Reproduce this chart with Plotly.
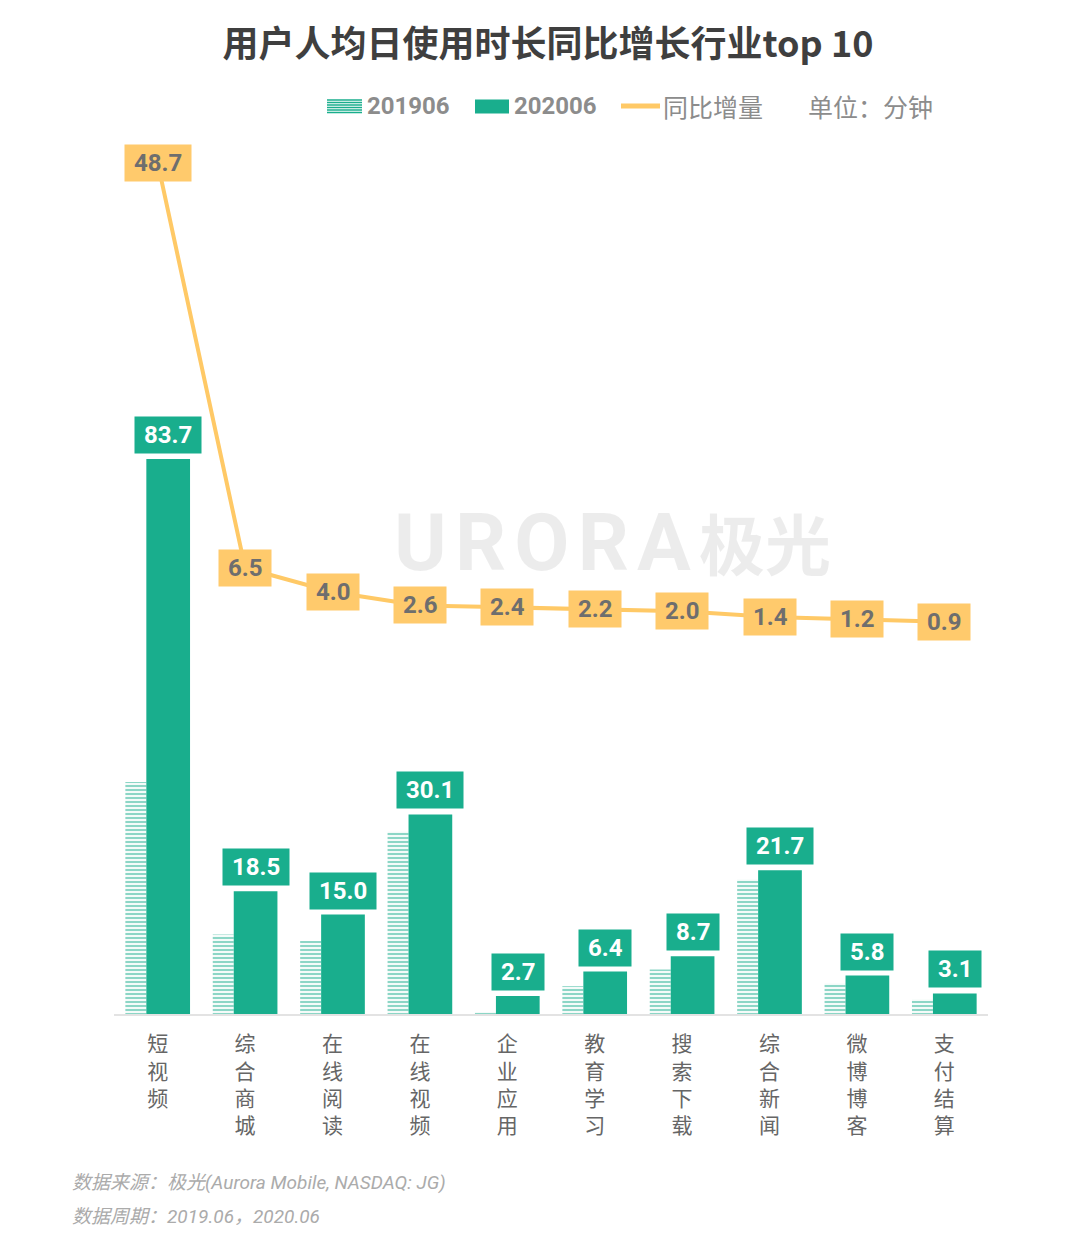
import plotly.graph_objects as go

categories = ["短视频", "综合商城", "在线阅读", "在线视频", "企业应用",
              "教育学习", "搜索下载", "综合新闻", "微博博客", "支付结算"]
v201906 = [35.0, 12.0, 11.0, 27.5, 0.3, 4.2, 6.7, 20.3, 4.6, 2.2]
v202006 = [83.7, 18.5, 15.0, 30.1, 2.7, 6.4, 8.7, 21.7, 5.8, 3.1]
growth = [48.7, 6.5, 4.0, 2.6, 2.4, 2.2, 2.0, 1.4, 1.2, 0.9]
series_names = ["201906", "202006", "同比增量"]

TEAL = "#19AE8D"
YELLOW = "#FFC966"
YBOX = "#FFCA6C"
FONT = "Roboto, Noto Sans CJK SC, sans-serif"
CJK = "Noto Sans CJK SC, Roboto, sans-serif"

# page-pixel helpers (plot area spans page x 114..988, y 140..1014)
PX0, PX1, PY0, PY1 = 114, 988, 140, 1014
def px(x):
    return (x - PX0) / (PX1 - PX0)
def py(y):
    return (PY1 - y) / (PY1 - PY0)

fig = go.Figure()
fig.add_trace(go.Bar(
    x=categories, y=v201906, name=series_names[0], width=0.24, offset=-0.37,
    marker=dict(color="white", line=dict(width=0),
                pattern=dict(shape="-", fgcolor=TEAL, bgcolor="white", size=4, solidity=0.55)),
    yaxis="y"))
fig.add_trace(go.Bar(
    x=categories, y=v202006, name=series_names[1], width=0.5, offset=-0.13,
    marker=dict(color=TEAL, line=dict(width=0)), yaxis="y"))
fig.add_trace(go.Scatter(
    x=categories, y=growth, name=series_names[2], mode="lines",
    line=dict(color=YELLOW, width=4), yaxis="y2"))

nb = "\u2009"
ann = []
for c, v in zip(categories, v202006):
    ann.append(dict(x=c, y=v, xref="x", yref="y", text=f"{nb}{v:.1f}{nb}", showarrow=False,
                    yanchor="bottom", yshift=5, xshift=10.5, bgcolor=TEAL, borderpad=4,
                    font=dict(family="Roboto", size=24, color="white", weight="bold")))
for c, g in zip(categories, growth):
    ann.append(dict(x=c, y=g, xref="x", yref="y2", text=f"{nb}{g:.1f}{nb}", showarrow=False,
                    yanchor="middle", bgcolor=YBOX, borderpad=4,
                    font=dict(family="Roboto", size=24, color="#6E6E6E", weight="bold")))
# watermark (drawn over the chart, faint)
hs = "\u200a"
ann.append(dict(x=px(612), y=py(543), xref="paper", yref="paper",
                text=hs.join("URORA") + hs + "<span style='font-size:66px'>极光</span>",
                showarrow=False,
                font=dict(family="Roboto, Noto Sans CJK SC", size=80,
                          color="rgba(0,0,0,0.075)", weight="bold")))

# custom legend
shapes = []
for yy in [100, 102.5, 105, 107.5, 110, 112.5]:
    shapes.append(dict(type="line", xref="paper", yref="paper", x0=px(327), x1=px(362),
                       y0=py(yy), y1=py(yy), line=dict(color=TEAL, width=1.4)))
shapes.append(dict(type="rect", xref="paper", yref="paper", x0=px(475), x1=px(509),
                   y0=py(113.5), y1=py(99.5), fillcolor=TEAL, line=dict(width=0)))
shapes.append(dict(type="line", xref="paper", yref="paper", x0=px(621), x1=px(660),
                   y0=py(106), y1=py(106), line=dict(color=YELLOW, width=5)))
for xx, name, bold in [(365, series_names[0], True), (512, series_names[1], True),
                       (661, series_names[2], False)]:
    ann.append(dict(x=px(xx), y=py(106), xref="paper", yref="paper", xanchor="left",
                    yanchor="middle", text=name, showarrow=False,
                    font=dict(family=FONT if bold else CJK, size=24 if bold else 25,
                              color="#8C8C8C", weight="bold" if bold else "normal")))
ann.append(dict(x=px(806), y=py(106), xref="paper", yref="paper",
                xanchor="left", yanchor="middle", text="单位：分钟", showarrow=False,
                font=dict(family=CJK, size=25, color="#8C8C8C")))
# footer
ann.append(dict(x=px(70), y=py(1182), xref="paper", yref="paper",
                xanchor="left", yanchor="middle", text="数据来源：极光(Aurora Mobile, NASDAQ: JG)",
                showarrow=False, font=dict(family=FONT, size=19, color="#ABABAB", style="italic")))
ann.append(dict(x=px(70), y=py(1216), xref="paper", yref="paper",
                xanchor="left", yanchor="middle", text="数据周期：2019.06，2020.06",
                showarrow=False, font=dict(family=FONT, size=19, color="#ABABAB", style="italic")))

fig.update_layout(
    width=1080, height=1236,
    margin=dict(l=106, r=100, t=132, b=230),
    paper_bgcolor="white", plot_bgcolor="white",
    barmode="overlay",
    title=dict(text="用户人均日使用时长同比增长行业top 10", x=0.5, xanchor="center",
               y=1 - 36 / 1236, yanchor="middle",
               font=dict(family=CJK, size=36, color="#3F3F3F", weight="bold")),
    showlegend=False,
    xaxis=dict(type="category", showline=True, linecolor="#E3E3E3", linewidth=2,
               showgrid=False, ticks="", zeroline=False,
               tickmode="array", tickvals=categories,
               ticktext=["<br>".join(list(c)) for c in categories],
               ticklabelstandoff=10,
               tickfont=dict(family=CJK, size=21, color="#666666")),
    yaxis=dict(visible=False, range=[0, 874 / 6.63], showgrid=False, zeroline=False),
    yaxis2=dict(visible=False, overlaying="y", range=[-(1014 - 630.4) / 9.6, (630.4 - 140) / 9.6],
                showgrid=False, zeroline=False),
    annotations=ann,
    shapes=shapes,
)

fig.write_html("out.html")
